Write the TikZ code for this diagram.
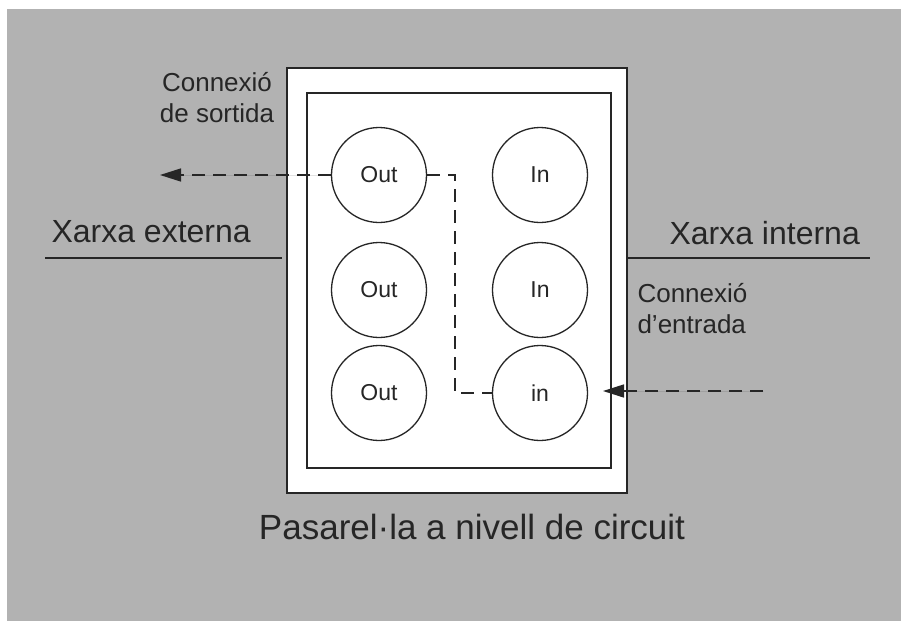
\documentclass[tikz,border=0pt]{standalone}
\usepackage{fontspec}
\setmainfont{Liberation Sans}
\usetikzlibrary{arrows.meta}
\definecolor{fons}{gray}{0.70}
\definecolor{tinta}{gray}{0.15}
\tikzset{
  porta/.style={circle,draw=tinta,line width=1.3pt,fill=white,minimum size=95pt,
    inner sep=0pt,text=tinta,font=\fontsize{23}{23}\selectfont},
  ratlla/.style={draw=tinta,dash pattern=on 13pt off 8pt,line width=1.5pt},
  etiqueta/.style={text=tinta,align=center,font=\fontsize{26}{31}\selectfont},
  xarxa/.style={text=tinta,font=\fontsize{32}{32}\selectfont}
}
\begin{document}
\begin{tikzpicture}[x=1pt,y=-1pt]
  \useasboundingbox (0,0) rectangle (901,621);
  \fill[white] (0,0) rectangle (901,621);
  \fill[fons] (7,9) rectangle (901,621);
  % pasarel.la
  \draw[tinta,line width=2pt,fill=white] (287,68) rectangle (627,493);
  \draw[tinta,line width=2pt] (307,93) rectangle (611,468);
  \node[porta] (out1) at (379,175) {Out};
  \node[porta] (out2) at (379,290) {Out};
  \node[porta] (out3) at (379,393) {Out};
  \node[porta] (in1) at (540,175) {In};
  \node[porta] (in2) at (540,290) {In};
  \node[porta] (in3) at (540,393) {in};
  % xarxes
  \node[xarxa,anchor=base west] (ext) at (48,242) {Xarxa externa};
  \node[xarxa,anchor=base west] (int) at (666,244) {Xarxa interna};
  \draw[tinta,line width=1.5pt] (45,258) -- (282,258);
  \draw[tinta,line width=1.5pt] (627,258) -- (870,258);
  % connexions
  \coordinate (surt) at (160,175);
  \coordinate (pont) at (455,284);
  \coordinate (entra) at (763,391);
  \coordinate (punta) at (603,391);
  \draw[ratlla,-{Triangle[length=21pt,width=13pt]},fill=tinta] (out1.west) -- (surt);
  \draw[ratlla] (out1.east) -| (pont) |- (in3.west);
  \draw[ratlla,-{Triangle[length=21pt,width=13pt]},fill=tinta] (entra) -- (punta);
  \node[etiqueta,anchor=base] (sortida) at (217,122) {Connexió\\de sortida};
  \node[etiqueta,anchor=base west,align=left] (entrada) at (634,333) {Connexió\\d'entrada};
  \node[text=tinta,anchor=base,font=\fontsize{35}{35}\selectfont] (titol) at (472,539)
    {Pasarel·la a nivell de circuit};
\end{tikzpicture}
\end{document}
